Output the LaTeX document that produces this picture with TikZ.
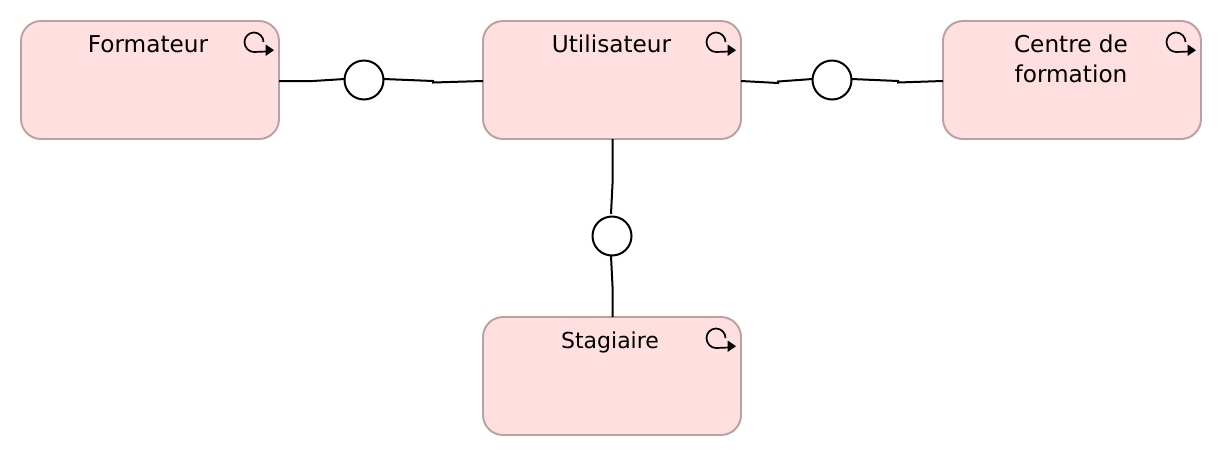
\documentclass[tikz,border=0pt]{standalone}
\usepackage{fontspec}
\setmainfont{DejaVu Sans}
\usetikzlibrary{calc}
\definecolor{boxfill}{HTML}{FFDFE0}
\definecolor{boxedge}{HTML}{B9A0A1}
\tikzset{
  x=1pt,y=-1pt,
  actor/.style={draw=boxedge,fill=boxfill,line width=1.9pt,rounded corners=20pt,minimum width=258pt,minimum height=118pt,inner sep=0pt,outer sep=0pt},
  label/.style={font=\fontsize{23.2pt}{30pt}\selectfont,align=center,text=black,inner sep=0pt,anchor=base},
  iface/.style={circle,draw=black,fill=white,line width=2pt,minimum size=39pt,inner sep=0pt,outer sep=0pt},
  wire/.style={draw=black,line width=2pt,line join=miter},
  pics/loop/.style={code={
    \draw[black,line width=1.7pt] (9.5,0) .. controls (9.5,-5.2) and (5.2,-9.5) .. (0,-9.5)
      .. controls (-5.2,-9.5) and (-9.5,-5.2) .. (-9.5,0)
      .. controls (-9.5,5.5) and (-5.2,10) .. (0,10) -- (13,9.5);
    \fill[black] (20,8.2) -- (11.7,2.5) -- (11.7,13.9) -- cycle;
  }}
}
\begin{document}
\begin{tikzpicture}
\useasboundingbox (0,0) rectangle (1222,456);
\node[actor] (formateur) at (150,80) {};
\node[actor] (utilisateur) at (612,80) {};
\node[actor] (centre) at (1072,80) {};
\node[actor] (stagiaire) at (612,376) {};
\node[label] (tf) at (148,52.3) {Formateur};
\node[label] (tu) at (611.5,52.3) {Utilisateur};
\node[label] (tc) at (1071,82.3) {Centre de\\formation};
\node[label,font=\fontsize{22pt}{30pt}\selectfont] (ts) at (610,348) {Stagiaire};
\pic at (254,42) {loop};
\pic at (716,42) {loop};
\pic at (1176,42) {loop};
\pic at (716,338) {loop};
\node[iface] (c1) at (364,80) {};
\node[iface] (c2) at (832,80) {};
\node[iface] (c3) at (612,236) {};
\coordinate (f1) at (formateur.east |- 0,81);
\coordinate (u1) at (utilisateur.west |- 0,81);
\coordinate (u2) at (utilisateur.east |- 0,81);
\coordinate (e1) at (centre.west |- 0,81);
\coordinate (us) at ([xshift=0.7pt]utilisateur.south);
\coordinate (sn) at ([xshift=0.7pt]stagiaire.north);
\draw[wire] (f1) -- (313,81) -- (c1.west |- 0,79);
\draw[wire] (c1.east |- 0,79) -- (433,81) -- (433,82.5) -- (u1);
\draw[wire] (u2) -- (778,83) -- (778,81.5) -- (c2.west |- 0,79);
\draw[wire] (c2.east |- 0,79) -- (898,81) -- (898,82.5) -- (e1);
\draw[wire] (us) -- (612.7,180) -- (611,214);
\draw[wire] (611,256) -- (612.7,290) -- (sn);
\end{tikzpicture}
\end{document}
